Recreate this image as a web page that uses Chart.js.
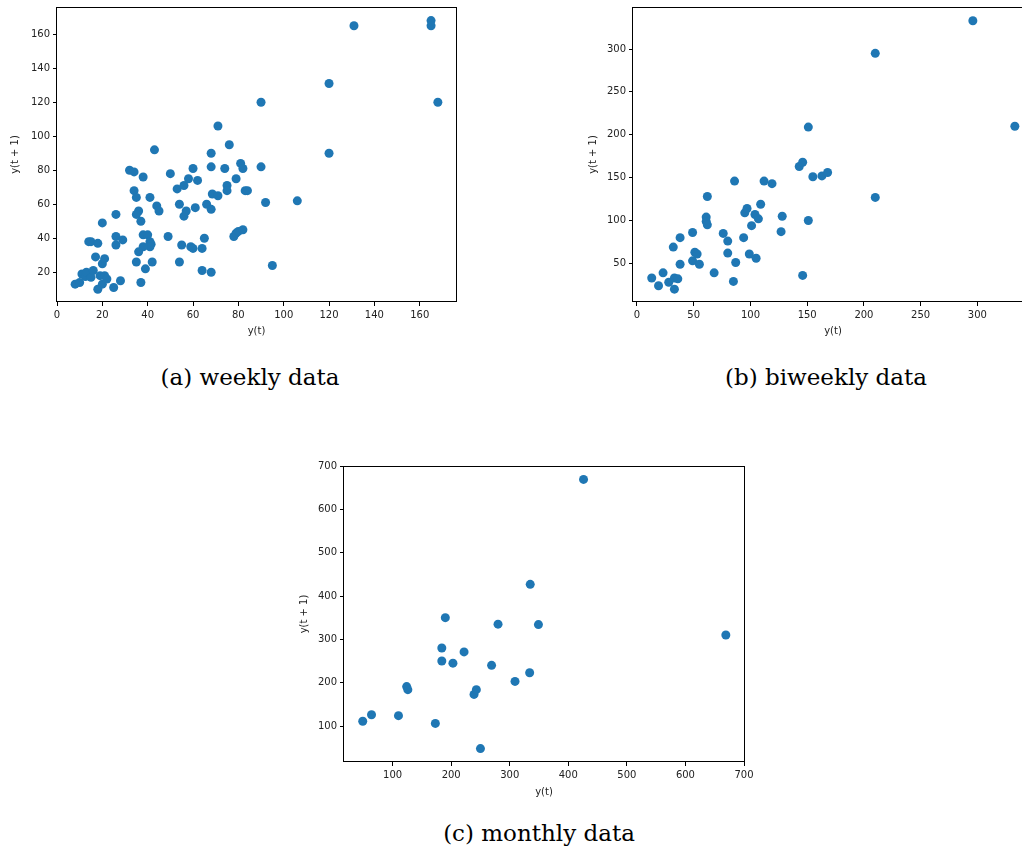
<!DOCTYPE html>
<html>
<head>
<meta charset="utf-8">
<script src="https://cdn.jsdelivr.net/npm/chart.js@4.4.0/dist/chart.umd.min.js"></script>
<style>
    html, body { margin: 0; background: #fff; overflow: hidden; }
    body { width: 1022px; height: 849px; position: relative; }
    canvas { position: absolute; }
    .clip { position: absolute; overflow: hidden; }
    .caption { position: absolute; font-family: "DejaVu Serif", serif; font-size: 23px; color: #000; transform: translateX(-50%); white-space: nowrap; }
</style>
</head>
<body>
<canvas id="graficaSemanal" width="470" height="341" style="left:0px;top:0px;width:470px;height:341px"></canvas>
<div class="clip" style="left:570px;top:0px;width:452px;height:341px">
    <canvas id="graficaQuincenal" width="475" height="341" style="left:0px;top:0px;width:475px;height:341px"></canvas>
</div>
<canvas id="graficaMensual" width="480" height="362" style="left:280px;top:440px;width:480px;height:362px"></canvas>
<div class="caption" style="left:250px;top:364px">(a) weekly data</div>
<div class="caption" style="left:826px;top:364px">(b) biweekly data</div>
<div class="caption" style="left:539px;top:820px">(c) monthly data</div>
<script>
// lag plot values: y(t) and y(t + 1)
var weeklyX = [8, 10, 11, 12.5, 13, 15, 14, 15, 16, 17, 18, 18, 19, 21, 20, 20, 20, 21, 22, 25, 26, 26, 26, 28, 29,
    32, 34, 38, 43, 34, 35, 41, 44, 45, 36, 35, 37, 38, 40, 41, 41.5, 41, 38, 36, 35, 42, 39, 37,
    49, 50, 53, 54, 54, 55, 56, 56, 57, 58, 59, 60, 60, 61, 62, 64, 64, 65, 66, 68, 68, 68, 68, 68.5, 71, 71,
    74, 75, 75, 76, 78, 79, 79, 80, 81, 82, 82, 83, 84, 90, 90, 92, 95, 106, 120, 120, 131, 165, 165, 168];
var weeklyY = [13, 14, 19, 17.5, 20, 17, 38, 38, 21, 29, 37, 10, 18, 18, 13, 25, 49, 28, 16, 11, 54, 41, 36, 15, 39,
    80, 79, 76, 92, 68, 64, 64, 59, 56, 56, 54, 50, 42, 42, 38, 36.5, 35, 35, 32, 26, 26, 22, 14,
    41, 78, 69, 60, 26, 36, 71, 53, 56, 75, 35, 34, 81, 58, 74, 34, 21, 40, 60, 90, 82, 57, 20, 66, 65, 106,
    81, 71, 68, 95, 41, 43, 75, 44, 84, 81, 45, 68, 68, 82, 120, 61, 24, 62, 90, 131, 165, 168, 165, 120];

var biweeklyX = [13, 19, 23, 28, 32, 33, 33, 36, 38, 38, 49, 49, 51, 53, 55, 61, 61, 62, 62, 68, 76, 80, 80, 85, 86, 87,
    94, 95, 97, 99, 101, 104, 105, 107, 109, 112, 119, 127, 128, 143, 146, 146, 151, 151, 155, 163, 168, 210, 210, 296, 333];
var biweeklyY = [33, 24, 39, 28, 69, 33, 20, 32, 80, 49, 86, 53, 63, 61, 49, 104, 99, 95, 128, 39, 85, 76, 62, 29, 146, 51,
    80, 109, 114, 61, 94, 107, 56, 102, 119, 146, 143, 87, 105, 163, 168, 36, 209, 100, 151, 152, 156, 295, 127, 333, 210];

var monthlyX = [49, 64, 110, 124, 126, 173, 184, 184, 190, 203, 222, 239, 243, 250, 269, 280, 309, 334, 335, 349, 426, 669];
var monthlyY = [111, 126, 124, 191, 184, 106, 280, 250, 350, 245, 271, 173, 184, 48, 240, 335, 203, 223, 427, 334, 669, 310];

var weeklyXTicks = [0, 20, 40, 60, 80, 100, 120, 140, 160];
var weeklyYTicks = [20, 40, 60, 80, 100, 120, 140, 160];
var biweeklyXTicks = [0, 50, 100, 150, 200, 250, 300];
var biweeklyYTicks = [50, 100, 150, 200, 250, 300];
var monthlyXTicks = [100, 200, 300, 400, 500, 600, 700];
var monthlyYTicks = [100, 200, 300, 400, 500, 600, 700];

var framePlugin = {
    id: 'frame',
    afterDraw: function(chart) {
        var a = chart.chartArea;
        var ctx = chart.ctx;
        ctx.save();
        ctx.strokeStyle = '#000';
        ctx.lineWidth = 1;
        ctx.strokeRect(Math.round(a.left) - 0.5, Math.round(a.top) + 0.5,
            Math.round(a.right - a.left) + 1, Math.round(a.bottom - a.top) - 1);
        ctx.restore();
    }
};

function lagChart(id, xs, ys, xTicks, yTicks, xRange, yRange, pad, yWidth, xHeight) {
    var ctx = document.getElementById(id).getContext("2d");
    var tickFont = { family: "DejaVu Sans", size: 10 };
    return new Chart(ctx, {
        type: "scatter",
        data: {
            datasets: [{
                label: 'lag',
                data: xs.map(function(x, i) { return {x: x, y: ys[i]}; }),
                backgroundColor: '#1f77b4',
                borderWidth: 0,
                pointRadius: 4.5,
                pointHoverRadius: 4.5
            }]
        },
        options: {
            responsive: false,
            animation: false,
            layout: { padding: pad },
            plugins: {
                legend: { display: false },
                tooltip: { enabled: false }
            },
            scales: {
                x: {
                    type: 'linear',
                    position: 'bottom',
                    min: xRange[0],
                    max: xRange[1],
                    afterBuildTicks: function(scale) {
                        scale.ticks = xTicks.map(function(v) { return {value: v}; });
                    },
                    afterFit: function(scale) {
                        scale.height = xHeight;
                        scale.paddingLeft = 0;
                        scale.paddingRight = 0;
                    },
                    grid: { drawOnChartArea: false, drawTicks: true, tickLength: 4, color: '#000' },
                    border: { display: false },
                    ticks: { font: tickFont, color: '#222', padding: 3, maxRotation: 0 },
                    title: { display: true, text: 'y(t)', font: tickFont, color: '#222' }
                },
                y: {
                    type: 'linear',
                    min: yRange[0],
                    max: yRange[1],
                    afterBuildTicks: function(scale) {
                        scale.ticks = yTicks.map(function(v) { return {value: v}; });
                    },
                    afterFit: function(scale) {
                        scale.width = yWidth;
                        scale.paddingTop = 0;
                        scale.paddingBottom = 0;
                    },
                    grid: { drawOnChartArea: false, drawTicks: true, tickLength: 4, color: '#000' },
                    border: { display: false },
                    ticks: { font: tickFont, color: '#222', padding: 3 },
                    title: { display: true, text: 'y(t + 1)', font: tickFont, color: '#222' }
                }
            }
        },
        plugins: [framePlugin]
    });
}

document.addEventListener("DOMContentLoaded", function() {
    lagChart("graficaSemanal", weeklyX, weeklyY, weeklyXTicks, weeklyYTicks,
        [0, 176], [2.5, 176], {left: 5, top: 7, right: 14, bottom: 0}, 52, 39);
    lagChart("graficaQuincenal", biweeklyX, biweeklyY, biweeklyXTicks, biweeklyYTicks,
        [-3.5, 349], [5, 349], {left: 13, top: 7, right: 12, bottom: 0}, 50, 39);
    lagChart("graficaMensual", monthlyX, monthlyY, monthlyXTicks, monthlyYTicks,
        [17, 700], [17, 700], {left: 14, top: 26, right: 16, bottom: 0}, 50, 40);
});
</script>
</body>
</html>
